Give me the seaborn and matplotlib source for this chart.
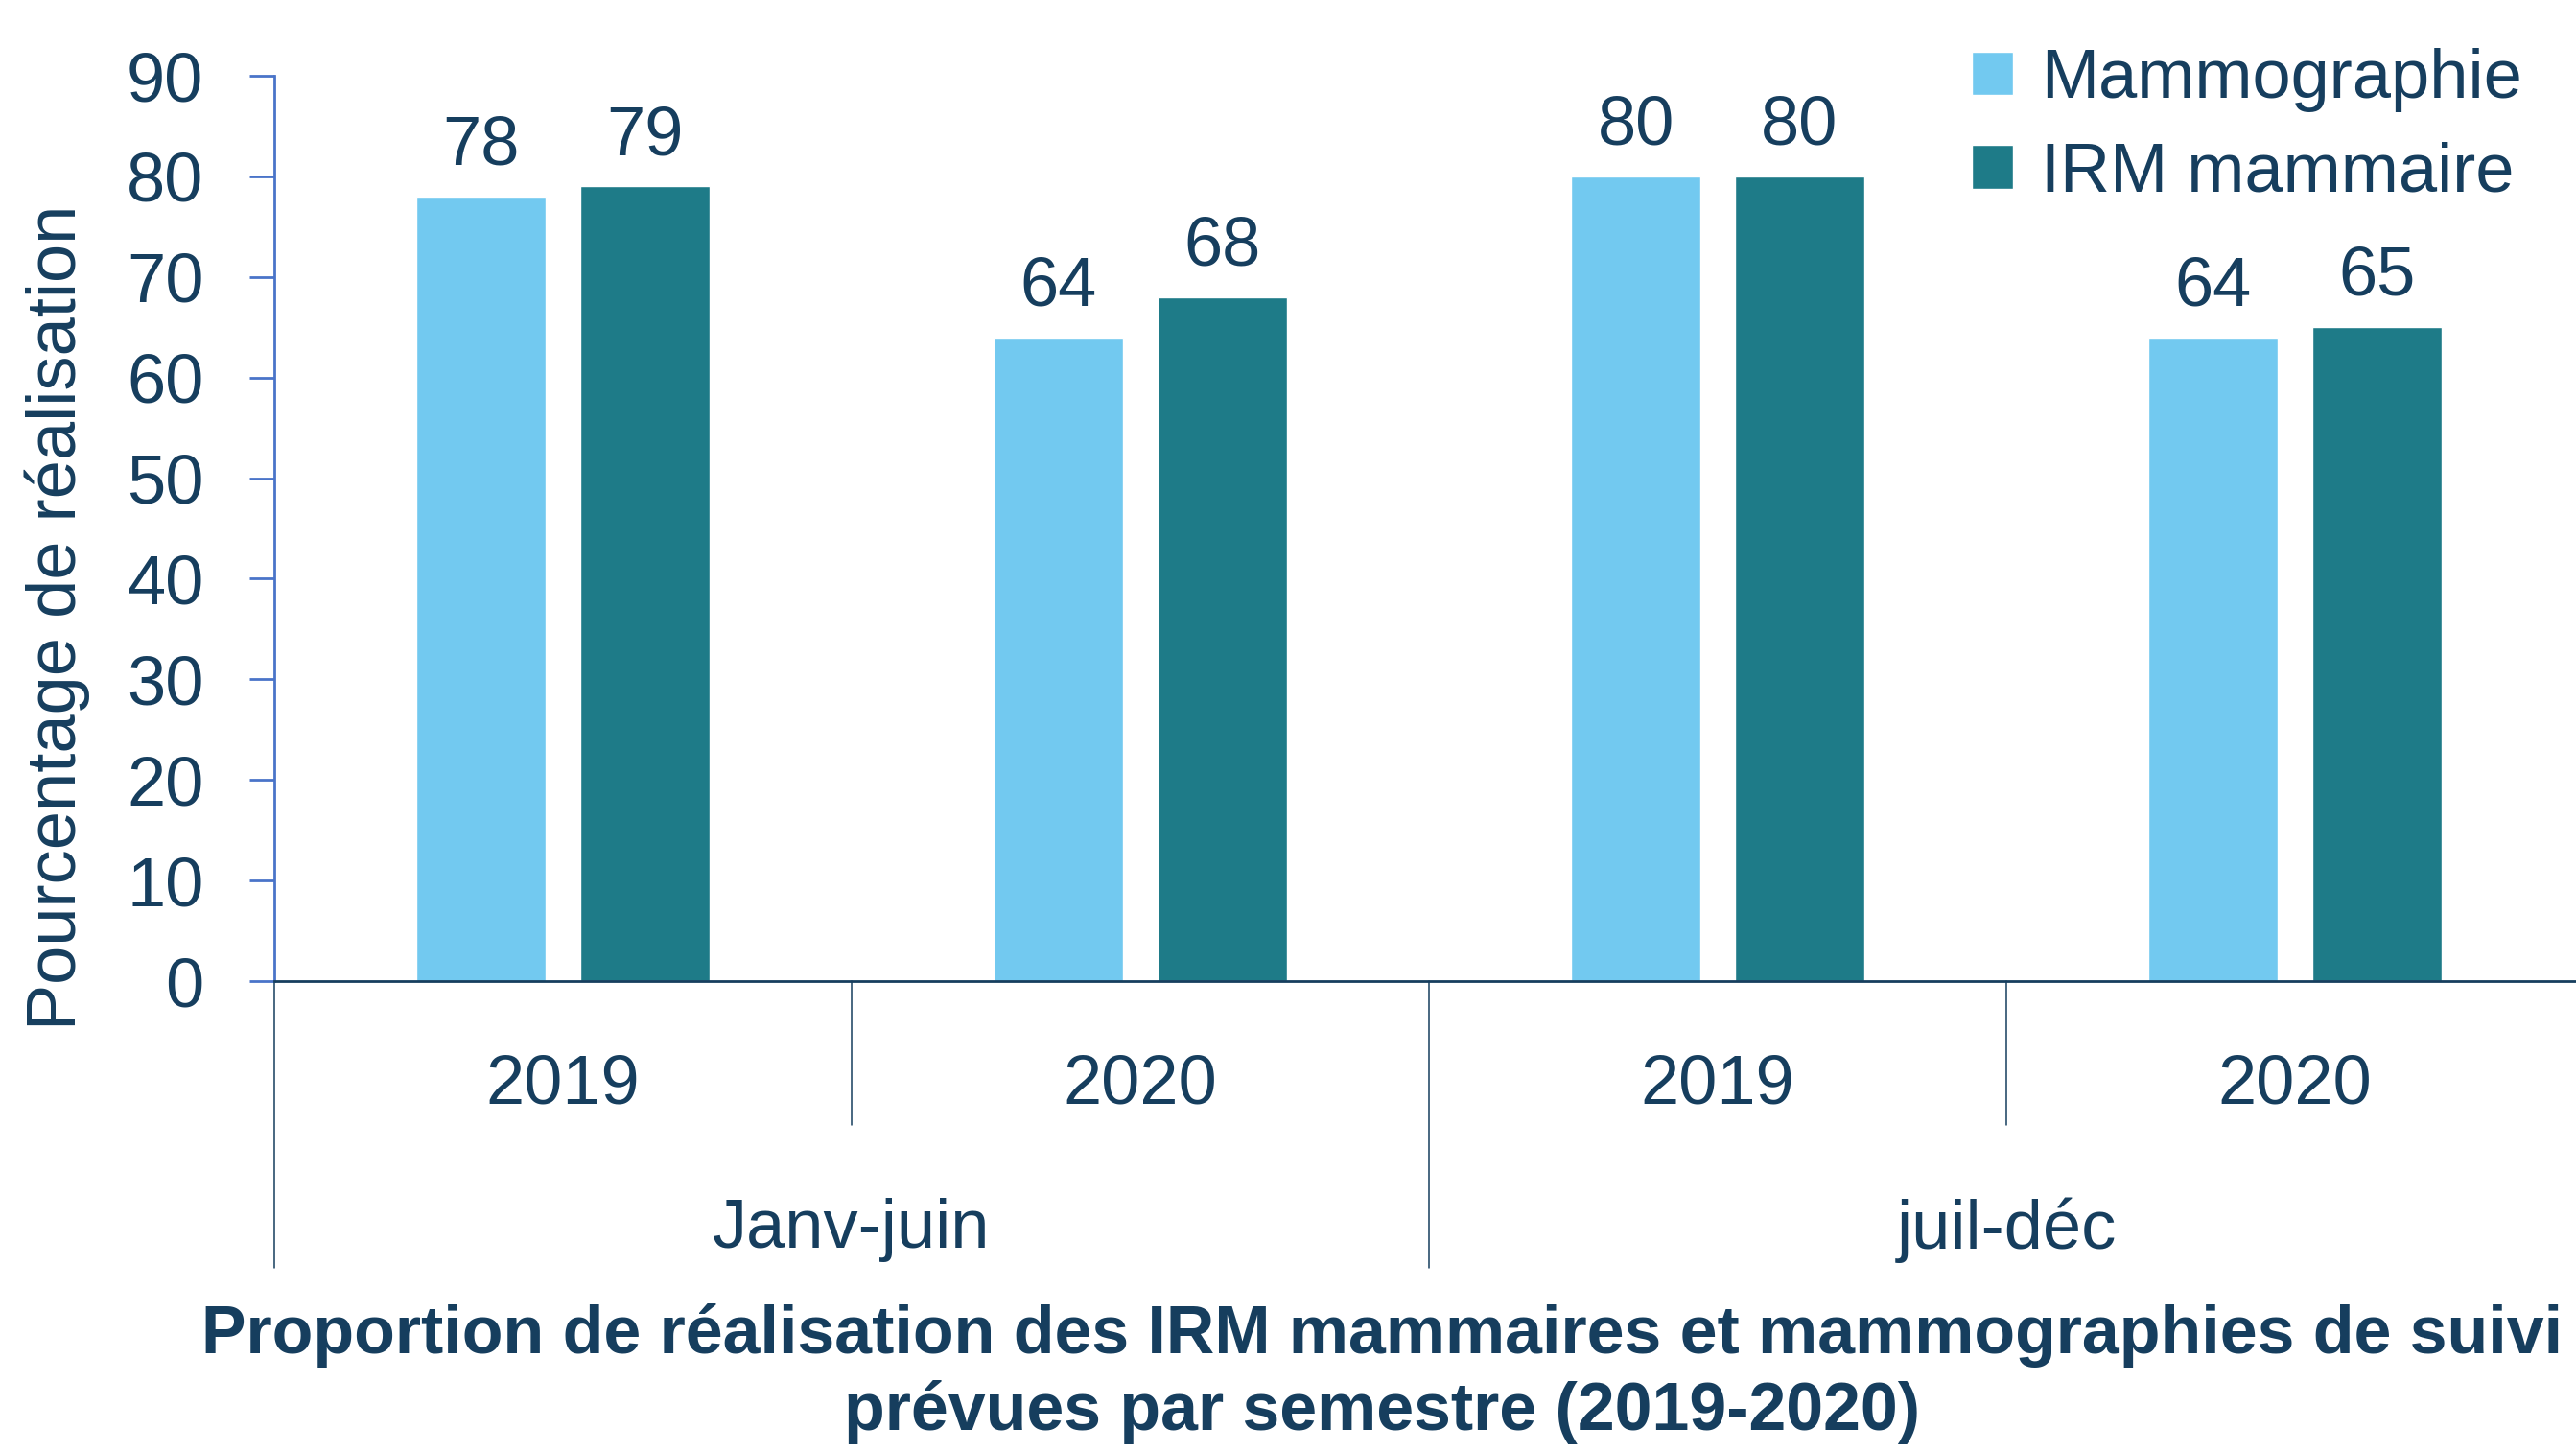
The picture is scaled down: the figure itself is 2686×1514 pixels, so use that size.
import pandas as pd
import matplotlib
matplotlib.use("Agg")
import matplotlib.pyplot as plt
import matplotlib.transforms as mtransforms
import seaborn as sns

# données
semestres = ["Janv-juin", "Janv-juin", "juil-déc", "juil-déc"]
annees = ["2019", "2020", "2019", "2020"]
mammographie = [78, 64, 80, 64]
irm_mammaire = [79, 68, 80, 65]
series = ["Mammographie", "IRM mammaire"]
yticks = [0, 10, 20, 30, 40, 50, 60, 70, 80, 90]

couleurs = ["#72C9F0", "#1E7B88"]
texte = "#163E5E"
bleu_axe = "#4A74C9"

categories = [f"{s} {a}" for s, a in zip(semestres, annees)]
df = pd.DataFrame({
    "categorie": categories * 2,
    "examen": [series[0]] * 4 + [series[1]] * 4,
    "valeur": mammographie + irm_mammaire,
})

sns.set_style("white")
plt.rcParams["font.family"] = ["Liberation Sans", "DejaVu Sans"]

fig = plt.figure(figsize=(26.86, 15.14), dpi=100)
ax = fig.add_axes([0.1065, 0.3243, 0.8965, 0.6235])

sns.barplot(data=df, x="categorie", y="valeur", hue="examen", order=categories,
            hue_order=series, palette=couleurs, width=0.568, gap=0.21,
            saturation=1, ax=ax, legend=True)

ax.set_xlim(-0.5, 3.5)
ax.set_ylim(0, 90)
ax.set_yticks(yticks)
ax.set_xticks([])
ax.set_xlabel("")
ax.set_ylabel("")
ax.tick_params(axis="y", length=19, width=2, color=bleu_axe, pad=34,
               labelsize=52, labelcolor=texte, left=True)

for s in ["top", "right"]:
    ax.spines[s].set_visible(False)
ax.spines["left"].set_color(bleu_axe)
ax.spines["left"].set_linewidth(2)
ax.spines["bottom"].set_color(texte)
ax.spines["bottom"].set_linewidth(2)

# étiquettes des valeurs
for cont in ax.containers:
    for bar in cont:
        h = bar.get_height()
        ax.annotate(f"{h:.0f}", (bar.get_x() + bar.get_width() / 2, h),
                    textcoords="offset points", xytext=(0, 24),
                    ha="center", va="baseline", fontsize=52, color=texte)

# axe x à deux niveaux
trans = mtransforms.blended_transform_factory(ax.transData, ax.transAxes)
for i, a in enumerate(annees):
    ax.text(i, -0.115, a, transform=trans, ha="center", va="center",
            fontsize=52, color=texte)
for x in [0.5, 2.5]:
    ax.plot([x, x], [0, -0.159], transform=trans, color=texte, lw=1.1,
            clip_on=False)
for x in [-0.5, 1.5, 3.5]:
    ax.plot([x, x], [0, -0.317], transform=trans, color=texte, lw=1.1,
            clip_on=False)
for x, s in [(0.5, semestres[0]), (2.5, semestres[2])]:
    ax.text(x, -0.275, s, transform=trans, ha="center", va="center",
            fontsize=52, color=texte)

handles, labels = ax.get_legend_handles_labels()
ax.legend(handles, labels, loc="upper left", bbox_to_anchor=(0.7655, 0.967),
          bbox_transform=fig.transFigure, frameon=False, fontsize=52,
          handlelength=0.6, handleheight=0.6, handletextpad=0.4,
          labelspacing=0.42, borderpad=0, borderaxespad=0, labelcolor=texte)

fig.text(0.0223, 0.5746, "Pourcentage de réalisation", rotation=90,
         ha="center", va="center", fontsize=52, color=texte)

titre = fig.text(0.5365, 0.054,
                 "Proportion de réalisation des IRM mammaires et mammographies de suivi\n"
                 "prévues par semestre (2019-2020)",
                 ha="center", va="center", fontsize=46, fontweight="bold",
                 color=texte, linespacing=1.25)

# ajuster la taille du titre à la largeur de la première ligne (~2460 px)
fig.canvas.draw()
larg = titre.get_window_extent().width
titre.set_fontsize(46 * 2460 / larg)

fig.savefig("out.png", dpi=100)
